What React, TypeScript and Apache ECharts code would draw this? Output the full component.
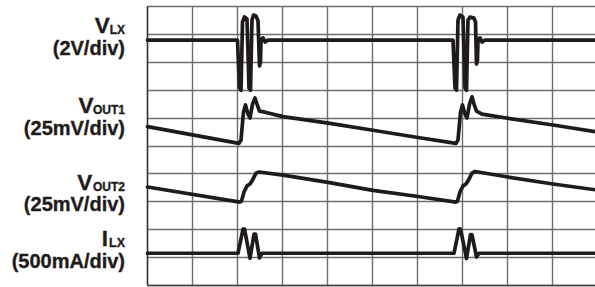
import React, { useEffect, useRef } from 'react';
import * as echarts from 'echarts';

// x: time divisions (0-10), y: screen divisions (0-10, bottom = 0)
const vLX: [number, number][] = [
  [0, 8.8], [2.0, 8.8],
  [2.044, 7.08], [2.078, 7.0], [2.111, 9.45], [2.156, 9.63], [2.211, 9.56], [2.256, 7.08], [2.289, 7.0],
  [2.322, 9.52], [2.356, 9.7], [2.411, 9.67], [2.456, 9.49], [2.489, 7.87], [2.511, 8.01], [2.522, 8.8],
  [2.567, 8.88], [2.611, 8.73], [2.678, 8.8],
  [6.789, 8.8],
  [6.833, 7.08], [6.867, 7.0], [6.9, 9.52], [6.944, 9.7], [7.011, 9.63], [7.056, 7.08], [7.089, 7.0],
  [7.122, 9.52], [7.167, 9.63], [7.256, 9.59], [7.289, 9.45], [7.311, 7.94], [7.333, 8.08], [7.344, 8.8],
  [7.389, 8.88], [7.433, 8.73], [7.5, 8.8],
  [10, 8.8],
];

const vOUT1: [number, number][] = [
  [0, 5.69], [2.033, 5.09], [2.078, 5.21], [2.133, 6.22], [2.178, 6.47], [2.233, 6.14], [2.278, 6.0],
  [2.333, 6.5], [2.389, 6.72], [2.433, 6.5], [2.489, 6.25], [2.611, 6.21], [3.011, 6.05],
  [4.056, 5.81], [5.011, 5.56], [6.011, 5.3], [6.856, 5.09], [6.9, 5.21], [6.956, 6.22], [7.0, 6.47],
  [7.056, 6.14], [7.1, 6.0], [7.156, 6.5], [7.211, 6.76], [7.256, 6.5], [7.311, 6.25], [7.433, 6.14],
  [8.011, 5.99], [9.011, 5.75], [10, 5.5],
];

const vOUT2: [number, number][] = [
  [0, 3.52], [2.056, 2.98], [2.089, 3.02], [2.144, 3.34], [2.211, 3.56], [2.278, 3.63], [2.333, 3.77],
  [2.411, 4.02], [2.478, 4.06], [3.011, 3.95], [4.011, 3.69], [5.011, 3.4], [6.011, 3.18],
  [6.856, 2.98], [6.889, 3.02], [6.944, 3.34], [7.011, 3.56], [7.078, 3.63], [7.133, 3.77],
  [7.211, 4.02], [7.278, 4.08], [8.011, 3.88], [9.011, 3.63], [10, 3.41],
];

const iLX: [number, number][] = [
  [0, 1.14], [2.011, 1.14], [2.122, 2.01], [2.156, 2.01], [2.278, 0.96], [2.367, 1.83], [2.4, 1.83],
  [2.489, 0.97], [2.544, 1.14], [6.811, 1.14], [6.922, 2.02], [6.956, 2.01], [7.089, 0.95],
  [7.178, 1.81], [7.211, 1.8], [7.311, 1.01], [7.367, 1.14], [10, 1.14],
];

const mainNames = ['V', 'V', 'V', 'I'];
const subNames = ['LX', 'OUT1', 'OUT2', 'LX'];
const scaleLabels = ['(2V/div)', '(25mV/div)', '(25mV/div)', '(500mA/div)'];

const FONT_FAMILY = "'Liberation Sans', Arial, Helvetica, sans-serif";
const INK = '#1f1b1c';

export default function App() {
  const ref = useRef<HTMLDivElement>(null);

  useEffect(() => {
    const chart = echarts.init(ref.current!, null, { renderer: 'svg' });

    const rowMainY = [25.8, 105.5, 182.5, 238.5];
    const rowSubY = [30.3, 110.2, 187, 243];
    const rowLabelY = [48.3, 128, 204, 261];
    const subSizes = [12, 12, 12, 12.5];
    const mainRight = [109.8, 93.5, 92.2, 108];

    const txt = (text: string, x: number, y: number, size: number) => ({
      type: 'text',
      x,
      y,
      style: {
        text,
        font: `bold ${size}px ${FONT_FAMILY}`,
        fill: INK,
        stroke: INK,
        lineWidth: 0.35,
        align: 'right',
        verticalAlign: 'middle',
        textAlign: 'right',
        textVerticalAlign: 'middle',
      },
    });

    const graphics: any[] = [];
    for (let i = 0; i < 4; i++) {
      graphics.push(txt(subNames[i], 125, rowSubY[i], subSizes[i]));
      graphics.push(txt(mainNames[i], mainRight[i], rowMainY[i], 22.5));
      graphics.push(txt(scaleLabels[i], 125, rowLabelY[i], 20));
    }

    const lineStyle = { color: INK, width: 3.7, cap: 'round', join: 'round' };
    const mk = (data: [number, number][]) => ({
      type: 'line',
      data,
      showSymbol: false,
      symbol: 'none',
      lineStyle,
      silent: true,
      clip: true,
    });

    chart.setOption({
      animation: false,
      backgroundColor: '#ffffff',
      grid: { left: 147.5, top: 6.7, width: 450, height: 278.3 },
      xAxis: {
        type: 'value',
        min: 0,
        max: 10,
        interval: 1,
        axisLabel: { show: false },
        axisTick: { show: false },
        axisLine: { show: true, lineStyle: { color: '#444', width: 1.4 } },
        splitLine: { show: true, lineStyle: { color: '#6e6e6e', width: 1.4 } },
      },
      yAxis: {
        type: 'value',
        min: 0,
        max: 10,
        interval: 1,
        axisLabel: { show: false },
        axisTick: { show: false },
        axisLine: { show: true, lineStyle: { color: '#333', width: 1.4 } },
        splitLine: { show: true, lineStyle: { color: '#6e6e6e', width: 1.4 } },
      },
      series: [mk(vLX), mk(vOUT1), mk(vOUT2), mk(iLX)],
      graphic: graphics,
    });

    return () => chart.dispose();
  }, []);

  return (
    <div
      style={{
        position: 'fixed',
        left: 0,
        top: 0,
        width: 595,
        height: 287,
        overflow: 'hidden',
        background: '#fff',
      }}
    >
      <div ref={ref} style={{ width: 600, height: 287 }} />
    </div>
  );
}
